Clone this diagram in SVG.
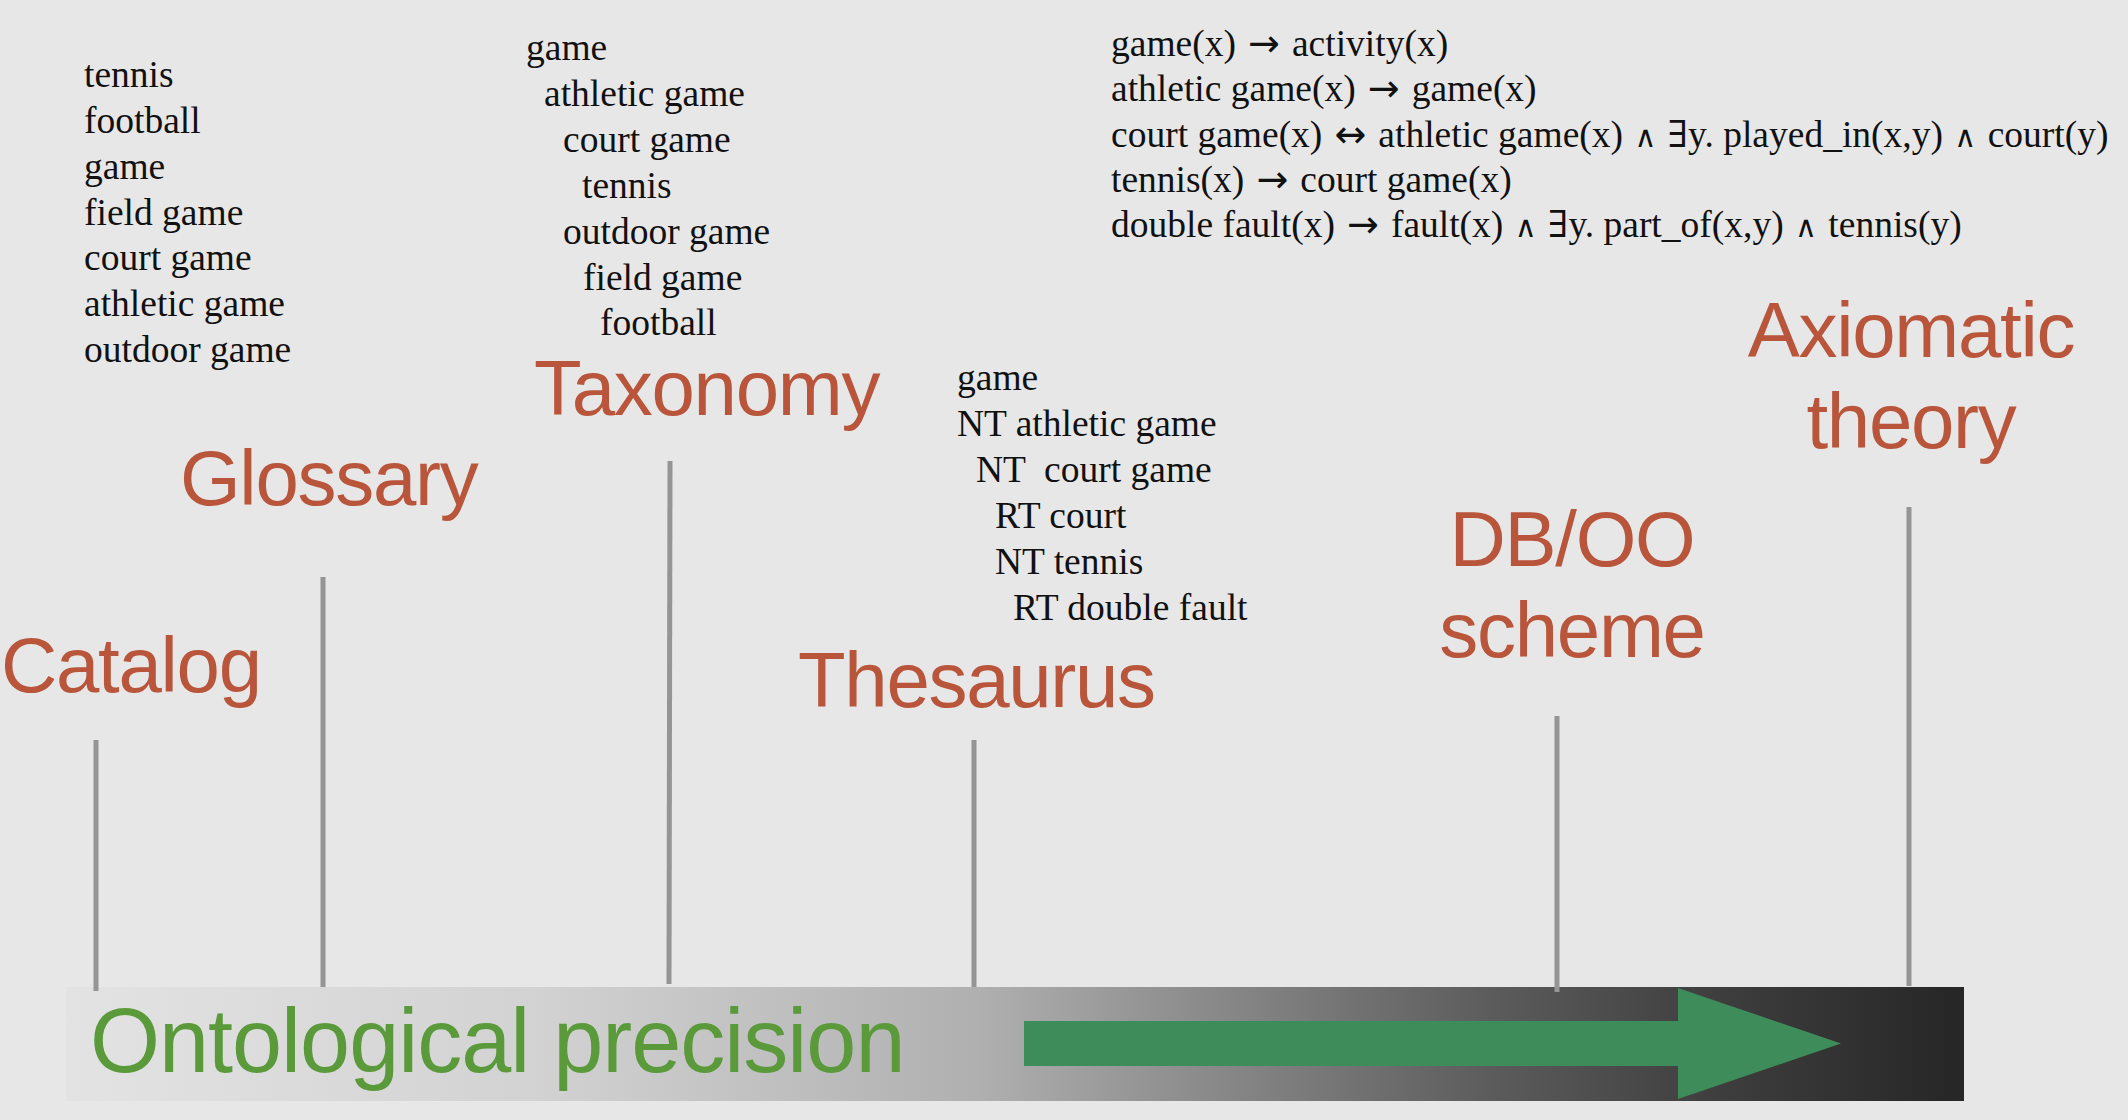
<svg xmlns="http://www.w3.org/2000/svg" width="2128" height="1120" viewBox="0 0 2128 1120">
  <defs>
    <linearGradient id="barGrad" x1="0" y1="0" x2="1" y2="0">
      <stop offset="0" stop-color="#e3e3e3"/>
      <stop offset="0.25" stop-color="#d2d2d2"/>
      <stop offset="0.48" stop-color="#b0b0b0"/>
      <stop offset="0.75" stop-color="#5c5c5c"/>
      <stop offset="0.87" stop-color="#3e3e3e"/>
      <stop offset="1" stop-color="#262626"/>
    </linearGradient>
  </defs>
  <style>
    .bg { fill: #e7e7e7; }
    .label { font-family: "Liberation Sans", Arial, Helvetica, sans-serif; font-size: 78px; fill: #b8553a; letter-spacing: -1.3px; }
    .list { font-family: "Liberation Serif", "Times New Roman", "DejaVu Serif", serif; font-size: 37.5px; fill: #111111; }
    .sym { font-family: "DejaVu Sans", sans-serif; font-size: 38px; }
    .and { font-family: "DejaVu Sans", sans-serif; font-size: 30px; }
    .tick { stroke: #959595; stroke-width: 5; fill: none; }
    .title { font-family: "Liberation Sans", Arial, Helvetica, sans-serif; font-size: 90px; fill: #5a9a3b; letter-spacing: -1px; }
  </style>
  <rect class="bg" x="0" y="0" width="2128" height="1120"/>

  <g id="precision-bar">
    <rect x="66" y="987" width="1898" height="114" fill="url(#barGrad)"/>
    <polygon points="1024,1021 1678,1021 1678,988 1841,1043.5 1678,1099 1678,1066 1024,1066" fill="#3e8c59"/>
    <text class="title" x="90" y="1072">Ontological precision</text>
  </g>

  <g id="connectors">
    <line class="tick" x1="96" y1="740" x2="96" y2="991"/>
    <line class="tick" x1="323" y1="577" x2="323" y2="987"/>
    <line class="tick" x1="670" y1="461" x2="669" y2="984"/>
    <line class="tick" x1="974" y1="740" x2="974" y2="987"/>
    <line class="tick" x1="1557" y1="716" x2="1557" y2="992"/>
    <line class="tick" x1="1909" y1="507" x2="1909" y2="986"/>
  </g>

  <g id="catalog">
    <text class="label" x="1" y="692">Catalog</text>
  </g>

  <g id="glossary">
    <text class="label" x="180" y="505">Glossary</text>
    <text class="list" x="84" y="87">tennis</text>
    <text class="list" x="84" y="133">football</text>
    <text class="list" x="84" y="178.5">game</text>
    <text class="list" x="84" y="224.5">field game</text>
    <text class="list" x="84" y="270">court game</text>
    <text class="list" x="84" y="316">athletic game</text>
    <text class="list" x="84" y="362">outdoor game</text>
  </g>

  <g id="taxonomy">
    <text class="label" x="534" y="415">Taxonomy</text>
    <text class="list" x="526" y="60">game</text>
    <text class="list" x="544" y="106">athletic game</text>
    <text class="list" x="563" y="152">court game</text>
    <text class="list" x="582" y="198">tennis</text>
    <text class="list" x="563" y="244">outdoor game</text>
    <text class="list" x="583" y="290">field game</text>
    <text class="list" x="600" y="335">football</text>
  </g>

  <g id="thesaurus">
    <text class="label" x="798" y="707">Thesaurus</text>
    <text class="list" x="957" y="390">game</text>
    <text class="list" x="957" y="436">NT athletic game</text>
    <text class="list" x="976" y="482" xml:space="preserve">NT  court game</text>
    <text class="list" x="995" y="528">RT court</text>
    <text class="list" x="995" y="574">NT tennis</text>
    <text class="list" x="1013" y="620">RT double fault</text>
  </g>

  <g id="db-oo-scheme">
    <text class="label" x="1572" y="566" text-anchor="middle">DB/OO</text>
    <text class="label" x="1572" y="657" text-anchor="middle">scheme</text>
  </g>

  <g id="axiomatic-theory">
    <text class="label" x="1911" y="357" text-anchor="middle">Axiomatic</text>
    <text class="label" x="1911" y="448" text-anchor="middle">theory</text>
    <text class="list" x="1111" y="56" xml:space="preserve">game(x)<tspan class="sym"> → </tspan>activity(x)</text>
    <text class="list" x="1111" y="101" xml:space="preserve">athletic game(x)<tspan class="sym"> → </tspan>game(x)</text>
    <text class="list" x="1111" y="147" xml:space="preserve">court game(x)<tspan class="sym"> ↔ </tspan>athletic game(x) <tspan class="and" dx="2">∧</tspan> <tspan dx="2">∃y.</tspan> played_in(x,y) <tspan class="and" dx="2">∧</tspan> <tspan dx="2">court(y)</tspan></text>
    <text class="list" x="1111" y="192" xml:space="preserve">tennis(x)<tspan class="sym"> → </tspan>court game(x)</text>
    <text class="list" x="1111" y="237" xml:space="preserve">double fault(x)<tspan class="sym"> → </tspan>fault(x) <tspan class="and" dx="2">∧</tspan> <tspan dx="2">∃y.</tspan> part_of(x,y) <tspan class="and" dx="2">∧</tspan> <tspan dx="2">tennis(y)</tspan></text>
  </g>
</svg>
